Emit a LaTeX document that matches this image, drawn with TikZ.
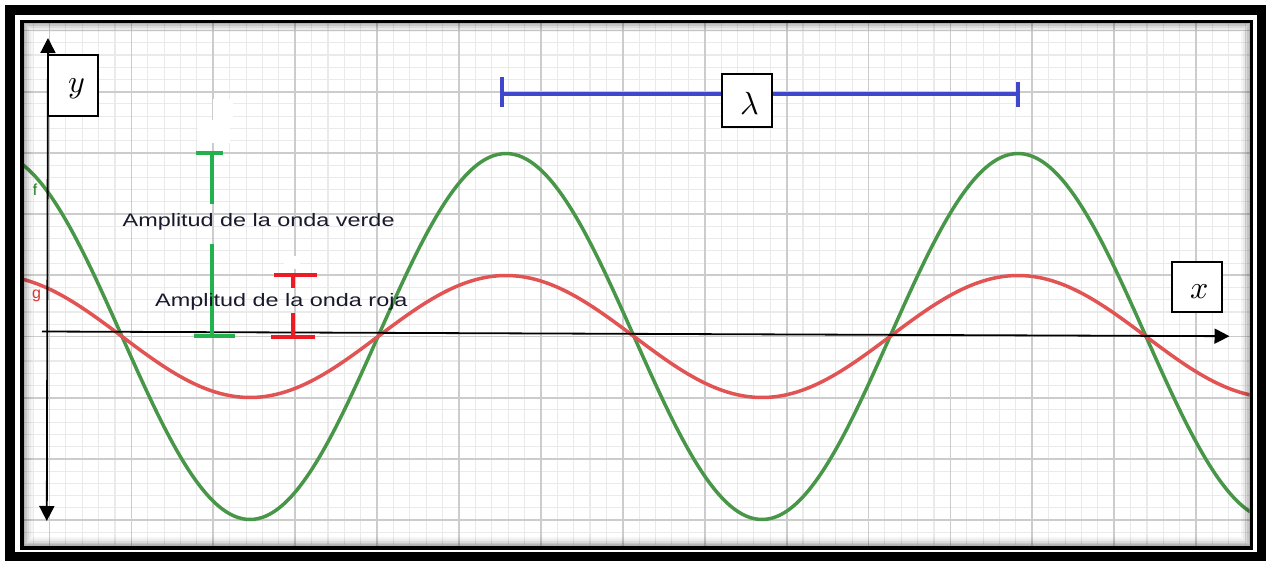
\documentclass[tikz,border=0pt]{standalone}
\usepackage{fontspec}
\usepackage{unicode-math}
\setmathfont{Latin Modern Math}
\usetikzlibrary{arrows.meta,calc}
\definecolor{gmaj}{RGB}{204,204,204}
\definecolor{gmin}{RGB}{234,234,234}
\definecolor{wgreen}{RGB}{72,150,72}
\definecolor{wred}{RGB}{226,84,84}
\definecolor{bgreen}{RGB}{34,177,76}
\definecolor{bred}{RGB}{237,28,36}
\definecolor{bblue}{RGB}{63,72,204}
\definecolor{txt}{RGB}{25,25,45}
\definecolor{fcol}{RGB}{30,125,30}
\definecolor{gcol}{RGB}{222,50,50}
\newfontfamily\arialf{Liberation Sans}
\begin{document}
\begin{tikzpicture}[x=1pt,y=-1pt,
  minorline/.style={gmin,line width=1.1pt},
  majorline/.style={gmaj,line width=1.8pt},
  wave/.style={line width=3.5pt},
  axisline/.style={black,line width=1.8pt},
  barline/.style={line width=4pt},
  mathbox/.style={draw=black,line width=2pt,fill=white,inner sep=0pt},
  sym/.style={font=\fontsize{32}{36}\selectfont,inner sep=0pt},
  amp/.style={font=\arialf\fontsize{18}{20}\selectfont,text=txt,inner sep=0pt},
  fname/.style={font=\arialf\fontsize{16}{18}\selectfont,inner sep=0pt}
]
\useasboundingbox (0,0) rectangle (1266,561);
\fill[white] (0,0) rectangle (1266,561);

% grid
\begin{scope}
\clip (24,23) rectangle (1249.5,546);
\foreach \i in {-2,...,73} {
  \pgfmathsetmacro\xx{49.5+16.38*\i}
  \draw[minorline] (\xx,23) -- (\xx,546);
}
\foreach \j in {-26,...,18} {
  \pgfmathsetmacro\yy{336.5+12.24*\j}
  \draw[minorline] (24,\yy) -- (1249.5,\yy);
}
\foreach \i in {-1,...,14} {
  \pgfmathsetmacro\xx{49.5+81.9*\i}
  \draw[majorline] (\xx,23) -- (\xx,546);
}
\foreach \j in {-6,...,3} {
  \pgfmathsetmacro\yy{336.5+61.2*\j}
  \draw[majorline] (24,\yy) -- (1249.5,\yy);
}
% white patches
\fill[white] (198,120) rectangle (230,143);
\fill[white] (213,99) rectangle (233,121);
\fill[white] (284,256) rectangle (300,269);

% waves
\draw[wave,wgreen] plot[domain=18:1256,samples=300,smooth] (\x,{336.5-183*cos(0.703125*(\x-506))});
\draw[wave,wred] plot[domain=18:1256,samples=300,smooth] (\x,{336.5-61*cos(0.703125*(\x-506))});
\end{scope}

% function names
\node[fname,text=fcol] (flab) at (35,190) {f};
\node[fname,text=gcol] (glab) at (36.5,296) {g};

% axes
\coordinate (xs) at (42,331.5);
\coordinate (xe) at (1229.5,336.2);
\coordinate (yt) at (48,38);
\coordinate (yb) at (46.8,521);
\draw[axisline,-{Triangle[width=15pt,length=15pt]}] (xs) -- (xe);
\draw[axisline,{Triangle[width=15pt,length=15pt]}-{Triangle[width=15pt,length=15pt]}] (yt) -- (yb);

% green amplitude bar
\coordinate (g1) at (211.7,152.7);
\coordinate (g2) at (211.7,204);
\coordinate (g3) at (211.7,244);
\coordinate (g4) at (211.7,335.7);
\draw[barline,bgreen] (g1) -- (g2) (g3) -- (g4);
\draw[barline,bgreen] (196,152.7) -- (222.5,152.7);
\draw[barline,bgreen] (194,335.7) -- (235,335.7);

% red amplitude bar
\coordinate (r1) at (293.3,275);
\coordinate (r2) at (293.3,288);
\coordinate (r3) at (293.3,313);
\coordinate (r4) at (293.3,337.3);
\draw[barline,bred] (r1) -- (r2) (r3) -- (r4);
\draw[barline,bred] (274,275) -- (316.7,275);
\draw[barline,bred] (271,337.3) -- (315,337.3);

% amplitude labels
\node[amp,anchor=base west] (verde) at (122.5,226.5) {\scalebox{1.3}[1]{Amplitud de la onda verde}};
\node[amp,anchor=base west] (roja) at (155,306) {\scalebox{1.3}[1]{Amplitud de la onda roja}};

% wavelength bar
\coordinate (l1) at (502,94);
\coordinate (l2) at (1018,94);
\draw[bblue,line width=3.5pt] (l1) -- (l2);
\draw[bblue,line width=3.5pt] (502,77) -- (502,107);
\draw[bblue,line width=3.5pt] (1018,82) -- (1018,107);
\node[mathbox,minimum width=50pt,minimum height=53pt] (lbox) at (747,100.3) {};
\node[sym] (lam) at (750,104) {$\lambda$};

% y and x boxes
\node[mathbox,minimum width=50.5pt,minimum height=61pt] (ybox) at (72.8,85.5) {};
\node[sym] (ylab) at (76.5,89) {$y$};
\node[mathbox,minimum width=50.5pt,minimum height=50.5pt] (xbox) at (1197,287) {};
\node[sym] (xlab) at (1199.5,292) {$x$};

% inner shadow
\foreach \d/\o in {1/0.30,3/0.22,5/0.14,7/0.08,9/0.035} {
  \draw[black,opacity=\o,line width=2pt] ({23+\d},{22+\d}) rectangle ({1250.5-\d},{547-\d});
}

% frames
\draw[black,line width=10pt] (10,10.5) rectangle (1261.5,557);
\draw[black,line width=3.5pt] (22,21.5) rectangle (1251.5,548);
\end{tikzpicture}
\end{document}
